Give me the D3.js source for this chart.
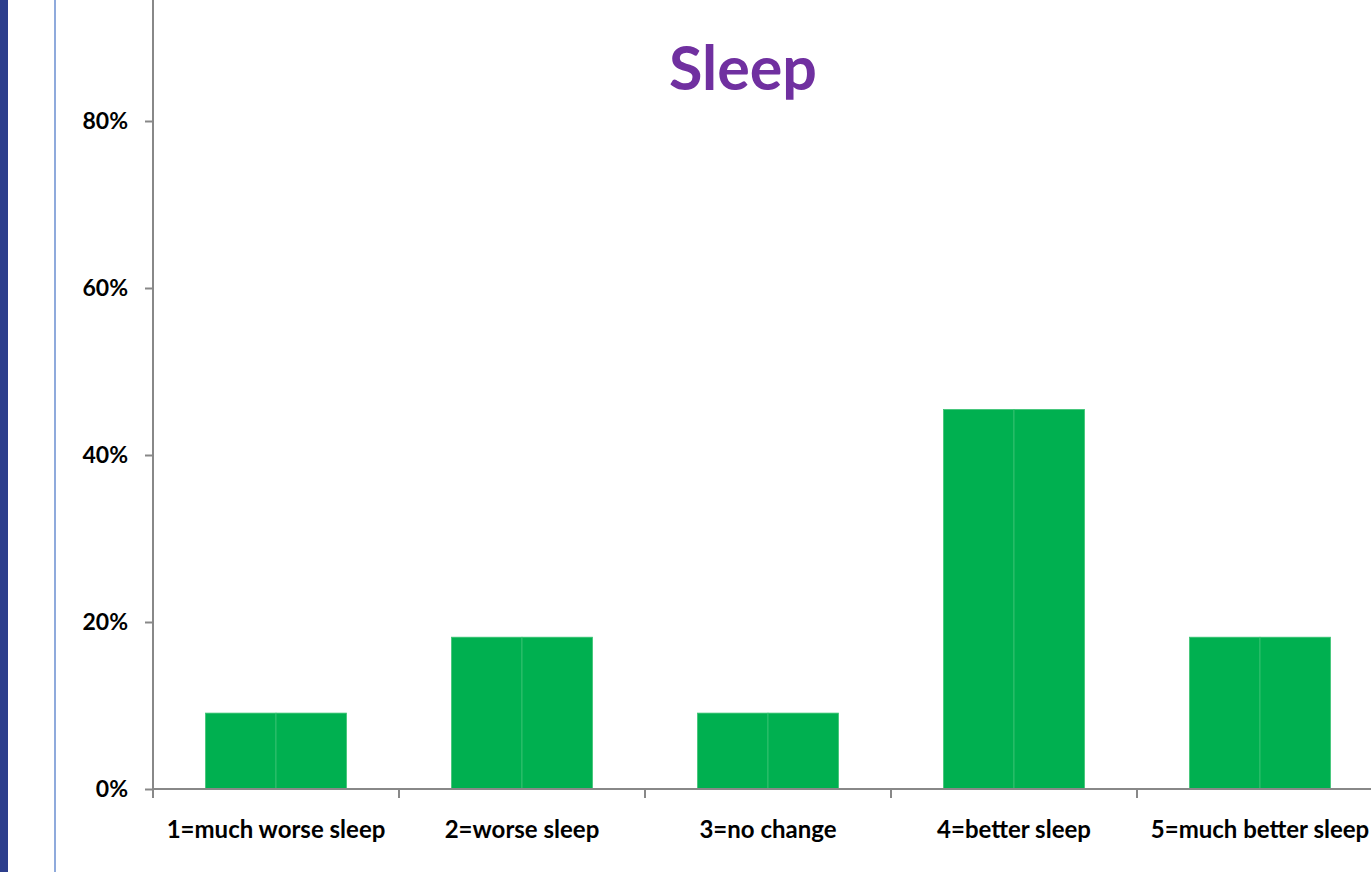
<!DOCTYPE html>
<html><head><meta charset="utf-8">
<script src="https://cdn.jsdelivr.net/npm/d3@7"></script>
<style>
html,body{margin:0;padding:0;background:#fff;overflow:hidden;}
svg{display:block;}
</style></head>
<body>
<svg id="c" width="1371" height="872"></svg>
<script>
const title = "Sleep";
const categories = ["1=much worse sleep","2=worse sleep","3=no change","4=better sleep","5=much better sleep"];
const seriesA = [9.09, 18.18, 9.09, 45.45, 18.18];
const seriesB = [9.09, 18.18, 9.09, 45.45, 18.18];
const yTicks = [0, 20, 40, 60, 80];

(function(){
const svg = d3.select("#c");
const W = 1371, H = 872;
const mLeft = 153, mRight = 1383, mBottom = 789;

// slide decorations
svg.append("rect").attr("x",0).attr("y",0).attr("width",8).attr("height",H).attr("fill","#2C3E8C");
svg.append("rect").attr("x",54).attr("y",0).attr("width",2).attr("height",H).attr("fill","#8FAADC");

const x = d3.scaleBand().domain(categories).range([mLeft, mRight]).paddingInner(0.427).paddingOuter(0.2135);
const y = d3.scaleLinear().domain([0, 80]).range([mBottom, 121]);
const sub = d3.scaleBand().domain(["a","b"]).range([0, x.bandwidth()]);

const data = categories.map((c,i)=>({c, vals:[{k:"a",v:seriesA[i]},{k:"b",v:seriesB[i]}]}));
const g = svg.selectAll("g.cat").data(data).enter().append("g").attr("class","cat").attr("transform",d=>`translate(${x(d.c)},0)`);
g.selectAll("rect").data(d=>d.vals).enter().append("rect")
  .attr("x",d=>sub(d.k)).attr("width",sub.bandwidth())
  .attr("y",d=>y(d.v)).attr("height",d=>mBottom-y(d.v))
  .attr("fill","#00B050").attr("stroke","#3CC474").attr("stroke-width",0.8);

// y axis
const ya = svg.append("g").attr("transform",`translate(${mLeft},0)`)
  .call(d3.axisLeft(y).tickValues(yTicks).tickSize(8).tickPadding(17).tickFormat(d=>d+"%"));
ya.select(".domain").remove();
ya.selectAll(".tick line").attr("stroke","#888").attr("stroke-width",2);
ya.selectAll("text").attr("font-family","Lato, 'Open Sans', sans-serif").attr("font-weight","bold").attr("font-size","23px").attr("fill","#000");
svg.append("line").attr("x1",mLeft).attr("x2",mLeft).attr("y1",0).attr("y2",mBottom).attr("stroke","#888").attr("stroke-width",2);

// x axis
const xTickScale = d3.scaleLinear().domain([0,5]).range([mLeft,mRight]);
svg.append("line").attr("x1",mLeft).attr("x2",W).attr("y1",mBottom).attr("y2",mBottom).attr("stroke","#888").attr("stroke-width",2);
svg.selectAll("line.xt").data(d3.range(0,6)).enter().append("line").attr("class","xt")
  .attr("x1",d=>xTickScale(d)).attr("x2",d=>xTickScale(d)).attr("y1",mBottom).attr("y2",mBottom+9)
  .attr("stroke","#888").attr("stroke-width",2);
svg.selectAll("text.xl").data(categories).enter().append("text").attr("class","xl")
  .attr("x",d=>x(d)+x.bandwidth()/2).attr("y",838).attr("text-anchor","middle")
  .attr("font-family","Lato, 'Open Sans', sans-serif").attr("font-weight","bold").attr("font-size","24px").attr("fill","#000")
  .text(d=>d);

svg.append("text").attr("x",743).attr("y",90).attr("text-anchor","middle")
  .attr("font-family","Lato, 'Open Sans', sans-serif").attr("font-weight","bold").attr("font-size","61px").attr("fill","#7030A0")
  .text(title);
})();
</script>
</body></html>
